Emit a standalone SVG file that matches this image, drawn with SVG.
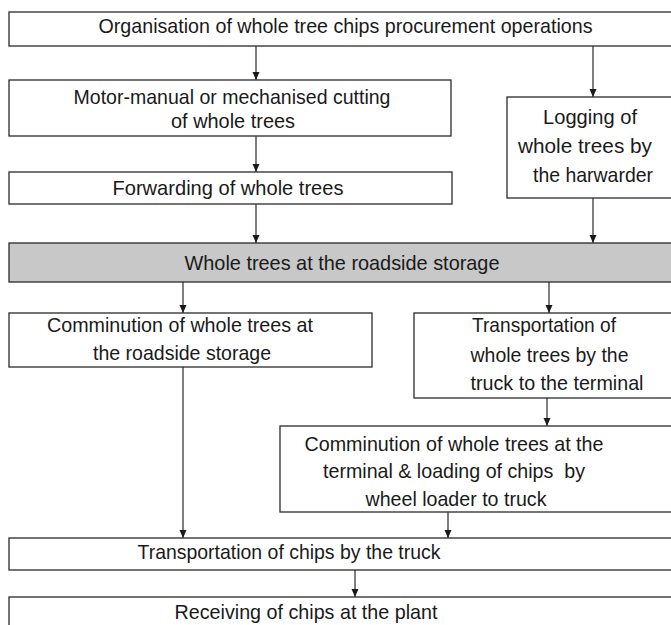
<svg xmlns="http://www.w3.org/2000/svg" width="671" height="625" viewBox="0 0 671 625">
<defs>
<style>
.box{fill:#ffffff;stroke:#2a2a2a;stroke-width:1.3}
.grey{fill:#c8c8c8;stroke:#2a2a2a;stroke-width:1.3}
.t{font-family:"Liberation Sans",Arial,sans-serif;font-size:21px;fill:#1a1a1a;text-anchor:middle}
.c{stroke:#2a2a2a;stroke-width:1.2;fill:none;marker-end:url(#ah)}
</style>
<marker id="ah" markerUnits="userSpaceOnUse" markerWidth="8" markerHeight="8" refX="8" refY="3.5" orient="auto">
<path d="M0,0 L8,3.5 L0,7 z" fill="#1a1a1a"/>
</marker>
</defs>
<rect width="671" height="625" fill="#ffffff"/>
<g id="connectors">
<line class="c" x1="256" y1="46" x2="256" y2="80"/>
<line class="c" x1="593" y1="46" x2="593" y2="97"/>
<line class="c" x1="256" y1="136" x2="256" y2="172"/>
<line class="c" x1="256" y1="204" x2="256" y2="243"/>
<line class="c" x1="593" y1="198" x2="593" y2="243"/>
<line class="c" x1="183" y1="282" x2="183" y2="313"/>
<line class="c" x1="549" y1="282" x2="549" y2="313"/>
<line class="c" x1="547" y1="398" x2="547" y2="426"/>
<line class="c" x1="183" y1="367" x2="183" y2="538"/>
<line class="c" x1="448" y1="512" x2="448" y2="538"/>
<line class="c" x1="355" y1="570" x2="355" y2="597"/>
</g>
<g id="n-organisation">
<rect class="box" x="9" y="12" width="670" height="34"/>
<text class="t" x="345.5" y="33" textLength="494" lengthAdjust="spacingAndGlyphs">Organisation of whole tree chips procurement operations</text>
</g>
<g id="n-cutting">
<rect class="box" x="9" y="80" width="442" height="56"/>
<text class="t" x="232" y="104" textLength="317" lengthAdjust="spacingAndGlyphs">Motor-manual or mechanised cutting</text>
<text class="t" x="233" y="128" textLength="124" lengthAdjust="spacingAndGlyphs">of whole trees</text>
</g>
<g id="n-logging">
<rect class="box" x="507" y="97" width="172" height="101"/>
<text class="t" x="590" y="124" textLength="94" lengthAdjust="spacingAndGlyphs">Logging of</text>
<text class="t" x="585" y="153" textLength="134" lengthAdjust="spacingAndGlyphs">whole trees by</text>
<text class="t" x="593" y="182" textLength="120" lengthAdjust="spacingAndGlyphs">the harwarder</text>
</g>
<g id="n-forwarding">
<rect class="box" x="9" y="172" width="443" height="32"/>
<text class="t" x="228" y="195" textLength="231" lengthAdjust="spacingAndGlyphs">Forwarding of whole trees</text>
</g>
<g id="n-roadside">
<rect class="grey" x="9" y="243" width="670" height="39"/>
<text class="t" x="342" y="270" textLength="315" lengthAdjust="spacingAndGlyphs">Whole trees at the roadside storage</text>
</g>
<g id="n-comminution-roadside">
<rect class="box" x="9" y="313" width="363" height="54"/>
<text class="t" x="180" y="332" textLength="266" lengthAdjust="spacingAndGlyphs">Comminution of whole trees at</text>
<text class="t" x="182" y="360" textLength="178" lengthAdjust="spacingAndGlyphs">the roadside storage</text>
</g>
<g id="n-transport-trees">
<rect class="box" x="414" y="313" width="265" height="85"/>
<text class="t" x="544" y="332" textLength="144" lengthAdjust="spacingAndGlyphs">Transportation of</text>
<text class="t" x="549.5" y="362" textLength="158" lengthAdjust="spacingAndGlyphs">whole trees by the</text>
<text class="t" x="557" y="390" textLength="173" lengthAdjust="spacingAndGlyphs">truck to the terminal</text>
</g>
<g id="n-comminution-terminal">
<rect class="box" x="280" y="426" width="399" height="86"/>
<text class="t" x="454" y="451" textLength="299" lengthAdjust="spacingAndGlyphs">Comminution of whole trees at the</text>
<text class="t" x="454" y="478" textLength="262" lengthAdjust="spacingAndGlyphs" xml:space="preserve">terminal &amp; loading of chips  by</text>
<text class="t" x="456" y="506" textLength="181" lengthAdjust="spacingAndGlyphs">wheel loader to truck</text>
</g>
<g id="n-transport-chips">
<rect class="box" x="9" y="538" width="670" height="32"/>
<text class="t" x="289" y="559" textLength="303" lengthAdjust="spacingAndGlyphs">Transportation of chips by the truck</text>
</g>
<g id="n-receiving">
<rect class="box" x="9" y="597" width="670" height="40"/>
<text class="t" x="306" y="619" textLength="263" lengthAdjust="spacingAndGlyphs">Receiving of chips at the plant</text>
</g>
</svg>
